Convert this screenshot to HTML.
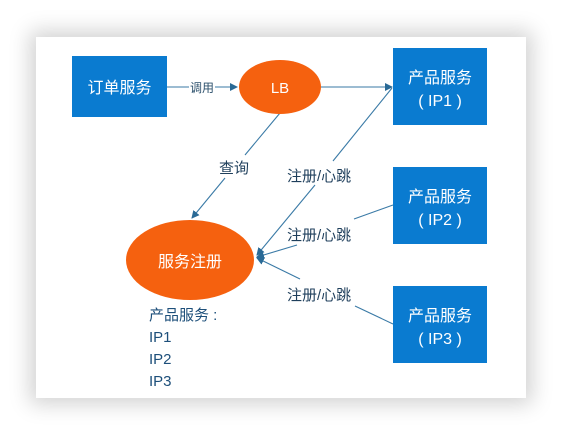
<!DOCTYPE html>
<html><head><meta charset="utf-8"><style>
body{margin:0;width:562px;height:434px;background:#fff;overflow:hidden}
.panel{position:absolute;left:36px;top:37px;width:490px;height:361px;background:#fff;box-shadow:0 0 20px 6px rgba(0,0,0,0.18)}
svg{position:absolute;left:0;top:0}
text{font-family:"Liberation Sans","Noto Sans CJK SC",sans-serif}
</style></head><body>
<div class="panel"></div>
<svg width="562" height="434">
<defs><marker id="a" markerWidth="8" markerHeight="8" refX="7" refY="4" orient="auto" markerUnits="userSpaceOnUse"><path d="M0,0 L8,4 L0,8 z" fill="#2a6a96"/></marker></defs>
<g stroke="#3a7aa6" stroke-width="1.1" fill="none">
<line x1="167" y1="87" x2="189" y2="87"/>
<line x1="215" y1="87" x2="237" y2="87" marker-end="url(#a)"/>
<line x1="321" y1="87" x2="392" y2="87" marker-end="url(#a)"/>
<line x1="280" y1="113" x2="245" y2="155"/>
<line x1="225" y1="178" x2="192" y2="218" marker-end="url(#a)"/>
<line x1="392" y1="88" x2="333" y2="161"/>
<line x1="315" y1="185" x2="257" y2="255" marker-end="url(#a)"/>
<line x1="393" y1="205" x2="354" y2="219"/>
<line x1="297" y1="245" x2="257" y2="257" marker-end="url(#a)"/>
<line x1="393" y1="324" x2="355" y2="306"/>
<line x1="300" y1="279" x2="257" y2="258" marker-end="url(#a)"/>
</g>
<rect x="72" y="56" width="95" height="61" fill="#0a7bd0"/>
<text x="119.5" y="93" fill="#fff" font-size="16" text-anchor="middle">订单服务</text>
<text x="202" y="92" fill="#2b4f6b" font-size="12" text-anchor="middle">调用</text>
<ellipse cx="280" cy="87" rx="41" ry="27" fill="#f5610f"/>
<text x="280" y="93" fill="#fff" font-size="15" text-anchor="middle">LB</text>
<g fill="#0a7bd0"><rect x="393" y="48" width="94" height="77"/><rect x="393" y="167" width="94" height="77"/><rect x="393" y="286" width="94" height="77"/></g>
<g fill="#fff" font-size="16" text-anchor="middle">
<text x="440" y="83">产品服务</text><text x="440" y="106">( IP1 )</text>
<text x="440" y="202">产品服务</text><text x="440" y="225">( IP2 )</text>
<text x="440" y="321">产品服务</text><text x="440" y="344">( IP3 )</text>
</g>
<ellipse cx="190" cy="260" rx="64" ry="40" fill="#f5610f"/>
<text x="190" y="267" fill="#fff" font-size="16" text-anchor="middle">服务注册</text>
<g fill="#1f3f5c" font-size="15">
<text x="219" y="173">查询</text>
<text x="287" y="181">注册/心跳</text>
<text x="287" y="240">注册/心跳</text>
<text x="287" y="300">注册/心跳</text>
</g>
<g fill="#1d4f7a" font-size="15">
<text x="149" y="320">产品服务 :</text>
<text x="149" y="342">IP1</text>
<text x="149" y="364">IP2</text>
<text x="149" y="386">IP3</text>
</g>
</svg>
</body></html>
